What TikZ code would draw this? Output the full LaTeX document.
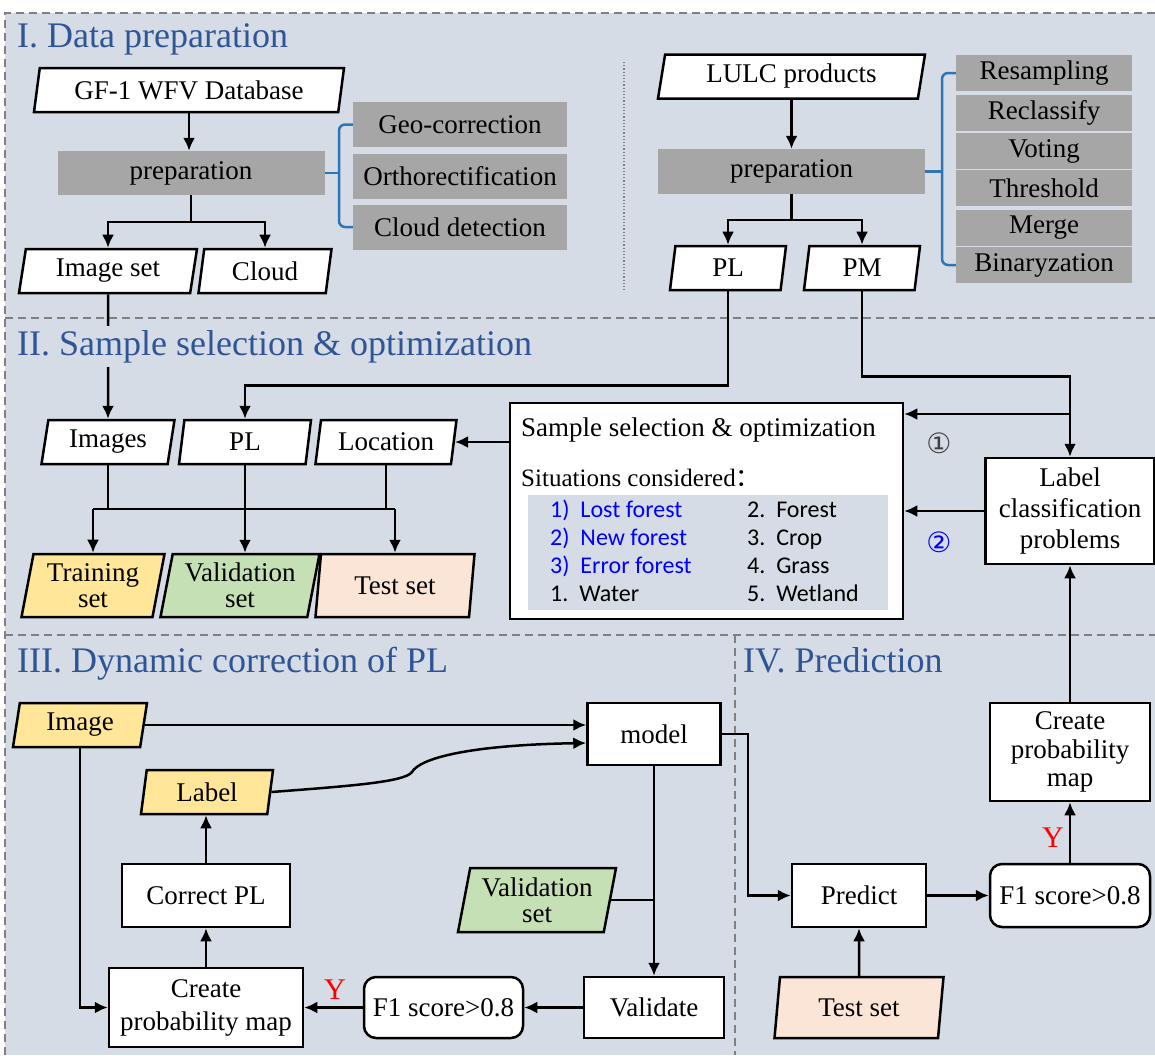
\documentclass[tikz,border=0pt]{standalone}
\usepackage{fontspec}
\setmainfont{Liberation Serif}
\newfontfamily\listfont{Carlito}
\newfontfamily\circfont{DejaVu Sans}
\newfontfamily\cjkfont{Noto Sans CJK SC}
\usepackage{tikz}
\usetikzlibrary{shapes.geometric,arrows.meta}

\definecolor{bgcol}{HTML}{D6DCE5}
\definecolor{boxgray}{HTML}{A6A6A6}
\definecolor{titleblue}{HTML}{2F5597}
\definecolor{bracecol}{HTML}{2E75B6}
\definecolor{sectgray}{HTML}{808080}
\definecolor{yelcol}{HTML}{FFE699}
\definecolor{grncol}{HTML}{C5E0B4}
\definecolor{pnkcol}{HTML}{FBE5D6}

\tikzset{
	box/.style={draw, line width=2.5pt, fill=white, inner sep=2pt, align=center},
	gbox/.style={fill=boxgray, inner sep=2pt},
	para/.style={trapezium, trapezium left angle=76, trapezium right angle=104, trapezium stretches body, draw, line width=2.5pt, fill=white, inner sep=2pt, align=center, minimum height=44pt},
	arr/.style={line width=2.5pt, -{Latex[length=13pt,width=12pt]}},
	conn/.style={line width=2.5pt},
	brace/.style={draw=bracecol, line width=2.5pt, rounded corners=6pt},
	sect/.style={draw=sectgray, line width=2pt, dash pattern=on 8pt off 5pt},
	title/.style={anchor=base west, inner xsep=0pt, inner ysep=4pt, fill=bgcol, text=titleblue, font=\fontsize{36}{40}\selectfont},
	item/.style={anchor=west, inner sep=0pt, text height=16pt, text depth=5pt, font=\listfont\fontsize{24}{28}\selectfont},
	ylab/.style={text=red, inner sep=0pt, font=\fontsize{30}{30}\selectfont}
}

\begin{document}
\begin{tikzpicture}[x=1pt, y=-1pt, every node/.style={font=\fontsize{27}{30}\selectfont}]
	\useasboundingbox (0,0) rectangle (1155,1055);
	\fill[bgcol] (5,13) rectangle (1155,1055);
	\draw[sect] (1155,13) -- (5,13) -- (5,1055);
	\draw[sect] (5,318) -- (1155,318);
	\draw[sect] (5,635) -- (1155,635);
	\draw[sect] (735,635) -- (735,1055);
	\draw[dotted, gray, line width=1.2pt] (624,62) -- (624,290);

	\node[para, minimum width=310pt] (gf) at (189,90) {GF-1 WFV Database};
	\node[gbox, minimum width=267pt, minimum height=44pt] (prep1) at (191,173) {preparation};
	\node[gbox, minimum width=214pt, minimum height=45pt] (geo) at (460,124.5) {Geo-correction};
	\node[gbox, minimum width=214pt, minimum height=45pt] (ortho) at (460,176) {Orthorectification};
	\node[gbox, minimum width=214pt, minimum height=45pt] (cloudd) at (460,227) {Cloud detection};
	\node[para, minimum width=178pt] (imgset) at (108,271) {Image set};
	\node[para, minimum width=133pt] (cloud) at (265,271) {Cloud};
	\draw[arr] (gf.south) -- (gf.south |- prep1.north);
	\draw[arr] (prep1.south) -- ++(0,27) -| (imgset.north);
	\draw[arr] (prep1.south) -- ++(0,27) -| (cloud.north);
	\draw[brace] (geo.west) -| (339,173) |- (cloudd.west);
	\draw[brace] (prep1.east) -- (339,173);

	\node[para, minimum width=267pt] (lulc) at (791.5,76.5) {LULC products};
	\node[gbox, minimum width=267pt, minimum height=45pt] (prep2) at (791.5,171.5) {preparation};
	\foreach \y/\t in {73/Resampling,113/Reclassify,151/Voting,188/Threshold,228/Merge,265/Binaryzation}
		\node[gbox, minimum width=176pt, minimum height=36pt] (\t) at (1044,\y) {\t};
	\node[para, minimum width=116pt] (pl1) at (728,268) {PL};
	\node[para, minimum width=116pt] (pm) at (862,268) {PM};
	\draw[arr] (lulc.south) -- (lulc.south |- prep2.north);
	\draw[arr] (prep2.south) -- ++(0,26) -| (pl1.north);
	\draw[arr] (prep2.south) -- ++(0,26) -| (pm.north);
	\draw[brace] (Resampling.west) -| (942,171.5) |- (Binaryzation.west);
	\draw[brace] (prep2.east) -- (942,171.5);

	\node[para, minimum width=133pt] (images) at (108,442) {Images};
	\node[para, minimum width=132pt] (pl2) at (245,442) {PL};
	\node[para, minimum width=141pt] (loc) at (386,442) {Location};
	\node[para, fill=yelcol, minimum width=143pt, minimum height=63pt, font=\fontsize{27}{26}\selectfont] (train) at (93,585.5) {Training\\set};
	\node[para, fill=grncol, minimum width=159pt, minimum height=63pt, font=\fontsize{27}{26}\selectfont] (valid) at (240,585.5) {Validation\\set};
	\node[para, fill=pnkcol, minimum width=159pt, minimum height=63pt] (test) at (395,585.5) {Test set};

	\node[box, minimum width=393pt, minimum height=216pt] (sel) at (706.5,511) {};
	\node[anchor=west, inner sep=0pt] (selt) at (521,430) {Sample selection \& optimization};
	\node[anchor=west, inner sep=0pt, font=\fontsize{25}{30}\selectfont] (sitt) at (521,478) {Situations considered{\cjkfont ：}};
	\node[fill=bgcol, minimum width=360pt, minimum height=115pt] (sitbox) at (708,552.5) {};
	\foreach \t [count=\i] in {Lost forest, New forest, Error forest}
		\node[item, text=blue] (a\i) at (550,484+28*\i) {\i)\ \ \t};
	\node[item] (a4) at (550,596) {1.\ \ Water};
	\foreach \n/\t [count=\i] in {2/Forest,3/Crop,4/Grass,5/Wetland}
		\node[item] (b\i) at (747,484+28*\i) {\n.\ \ \t};
	\node[text=black!75, inner sep=0pt, font=\circfont\fontsize{28}{28}\selectfont] (c1) at (939,443) {①};
	\node[text=blue, inner sep=0pt, font=\circfont\fontsize{28}{28}\selectfont] (c2) at (939,542) {②};
	\node[box, minimum width=169pt, minimum height=106pt, font=\fontsize{27}{31}\selectfont] (lab) at (1070,511) {Label\\classification\\problems};

	\draw[arr] (imgset.south) -- (images.north);
	\draw[arr] (pl1.south) -- ++(0,94) -| (pl2.north);
	\draw[arr] (pm.south) -- ++(0,85) -| (lab.north);
	\coordinate (br) at (1070,414);
	\draw[arr] (br) -- (sel.east |- br);
	\draw[arr] (lab.west) -- (sel.east);
	\draw[arr] (sel.west |- loc.east) -- (loc.east);
	\coordinate (split) at (0,509);
	\draw[conn] (images.south) -- (images.south |- split);
	\draw[conn] (loc.south) -- (loc.south |- split);
	\draw[conn] (train.north |- split) -- (test.north |- split);
	\draw[arr] (train.north |- split) -- (train.north);
	\draw[arr] (pl2.south) -- (pl2.south |- valid.north);
	\draw[arr] (test.north |- split) -- (test.north);

	\node[para, fill=yelcol, minimum width=134pt] (img) at (80,725) {Image};
	\node[box, minimum width=133pt, minimum height=62pt] (model) at (654,734) {model};
	\node[para, fill=yelcol, minimum width=132pt] (label) at (207,792) {Label};
	\node[box, minimum width=168pt, minimum height=63pt] (corr) at (206,895.5) {Correct PL};
	\node[box, minimum width=194pt, minimum height=79pt, font=\fontsize{27}{33}\selectfont] (cpm1) at (206,1007.5) {Create\\probability map};
	\node[box, rounded corners=12pt, minimum width=159pt, minimum height=61pt] (f1a) at (443.5,1007.5) {F1 score>0.8};
	\node[box, minimum width=140pt, minimum height=61pt] (vali) at (654,1007.5) {Validate};
	\node[para, fill=grncol, minimum width=158pt, minimum height=64pt, font=\fontsize{27}{26}\selectfont] (vset) at (537,900) {Validation\\set};
	\draw[arr] (img.east) -- (model.west |- img.east);
	\draw[arr] (label.east) .. controls (350,786) and (405,782) .. (412,772) .. controls (420,758) and (470,745) .. (model.west |- 0,743);
	\draw[arr] (corr.north) -- (corr.north |- label.south);
	\draw[arr] (cpm1.north) -- (corr.south);
	\draw[arr] (img.south) |- (cpm1.west);
	\draw[arr] (f1a.west) -- (cpm1.east);
	\draw[arr] (vali.west) -- (f1a.east);
	\draw[arr] (model.south) -- (vali.north);
	\draw[conn] (vset.east) -- (model.south |- vset.east);
	\node[ylab] (ya) at (335,990) {Y};

	\node[box, minimum width=134pt, minimum height=63pt] (pred) at (859,895.5) {Predict};
	\node[box, rounded corners=12pt, minimum width=160pt, minimum height=63pt] (f1b) at (1070,895.5) {F1 score>0.8};
	\node[box, minimum width=160pt, minimum height=98pt, font=\fontsize{27}{28.5}\selectfont] (cpm2) at (1070,752) {Create\\probability\\map};
	\node[para, fill=pnkcol, minimum width=169pt, minimum height=61pt] (test2) at (859,1007.5) {Test set};
	\draw[arr] (model.east) -- ++(26,0) |- (pred.west);
	\draw[arr] (pred) -- (f1b);
	\draw[arr] (f1b) -- (cpm2);
	\draw[arr] (cpm2) -- (lab);
	\draw[arr] (test2.north) -- (pred.south);
	\node[ylab] (yb) at (1053,838) {Y};

	\node[title] (t1) at (17,47) {I. Data preparation};
	\node[title] (t2) at (17,355) {II. Sample selection \& optimization};
	\node[title] (t3) at (17,672) {III. Dynamic correction of PL};
	\node[title] (t4) at (743,672) {IV. Prediction};
\end{tikzpicture}
\end{document}
